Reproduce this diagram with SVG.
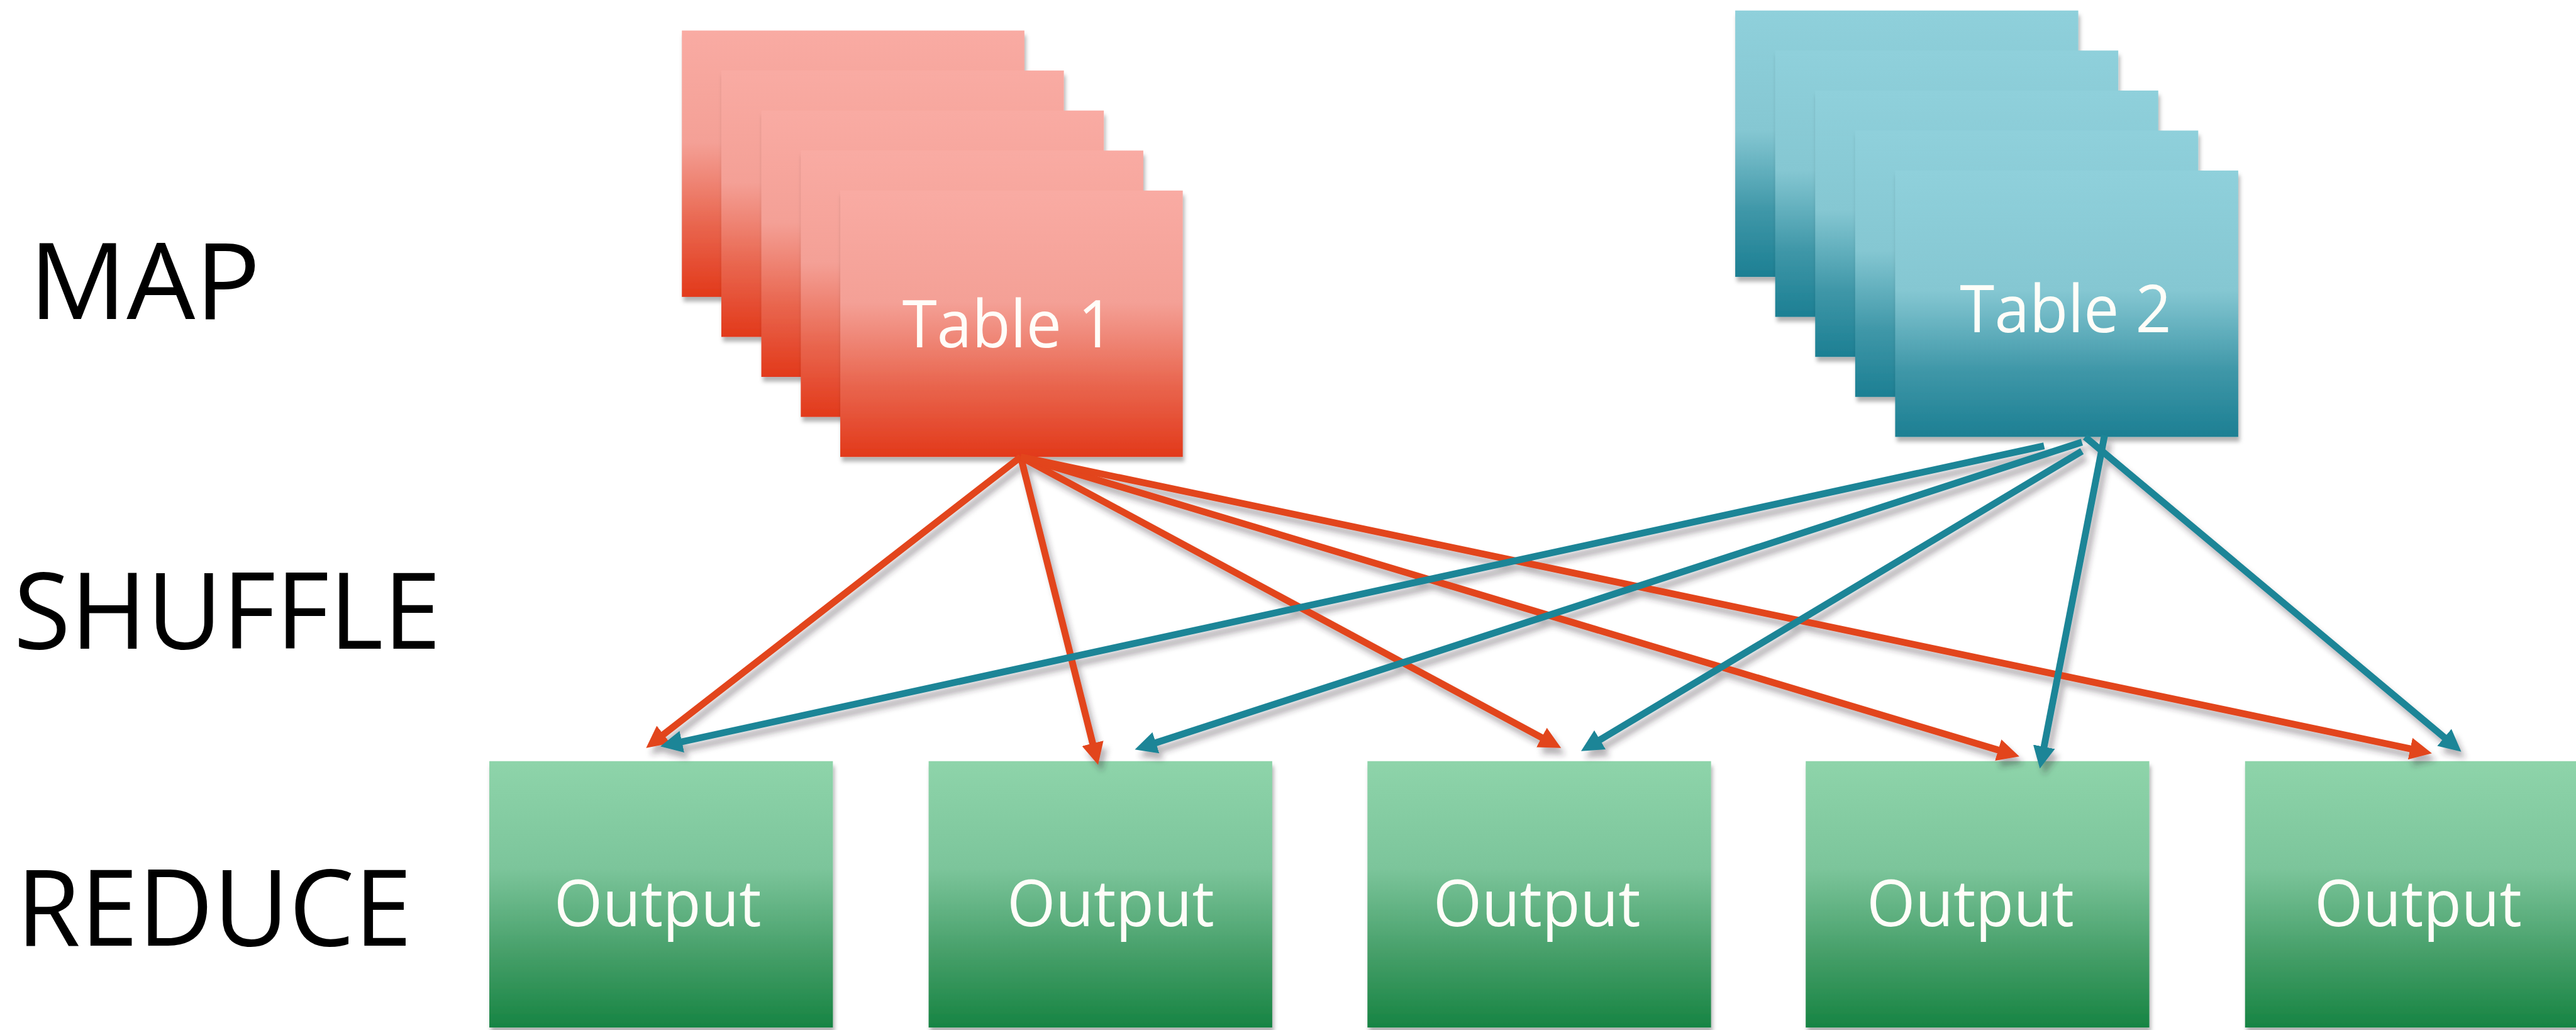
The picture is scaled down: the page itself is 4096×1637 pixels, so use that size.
<svg xmlns="http://www.w3.org/2000/svg" width="4096" height="1637" viewBox="0 0 4096 1637">
  <defs>
    <linearGradient id="gradRed" x1="0" y1="0" x2="0" y2="1">
      <stop offset="0" stop-color="#F9ABA3"/>
      <stop offset="0.42" stop-color="#F4A096"/>
      <stop offset="0.72" stop-color="#E96750"/>
      <stop offset="1" stop-color="#E2391A"/>
    </linearGradient>
    <linearGradient id="gradTeal" x1="0" y1="0" x2="0" y2="1">
      <stop offset="0" stop-color="#8FD0DB"/>
      <stop offset="0.45" stop-color="#85C7D2"/>
      <stop offset="0.75" stop-color="#3F97A8"/>
      <stop offset="1" stop-color="#1C7F93"/>
    </linearGradient>
    <linearGradient id="gradGreen" x1="0" y1="0" x2="0" y2="1">
      <stop offset="0" stop-color="#8ED4AA"/>
      <stop offset="0.4" stop-color="#7CC59B"/>
      <stop offset="0.72" stop-color="#469F69"/>
      <stop offset="1" stop-color="#178443"/>
    </linearGradient>
    <filter id="cardShadow" x="-10%" y="-10%" width="130%" height="130%">
      <feDropShadow dx="3" dy="9" stdDeviation="4" flood-color="#000" flood-opacity="0.3"/>
    </filter>
    <filter id="lineShadow" x="-10%" y="-10%" width="130%" height="130%">
      <feDropShadow dx="8" dy="13" stdDeviation="6" flood-color="#302838" flood-opacity="0.35"/>
    </filter>
    <marker id="headRed" markerUnits="userSpaceOnUse" viewBox="0 -22 44 44" markerWidth="44" markerHeight="44" refX="2" refY="0" orient="auto">
      <path d="M0,-21 L42,0 L0,21 z" fill="#E2441B"/>
    </marker>
    <marker id="headTeal" markerUnits="userSpaceOnUse" viewBox="0 -22 44 44" markerWidth="44" markerHeight="44" refX="2" refY="0" orient="auto">
      <path d="M0,-21 L42,0 L0,21 z" fill="#1E8597"/>
    </marker>
    <style>
      .card-red { fill: url(#gradRed); filter: url(#cardShadow); }
      .card-teal { fill: url(#gradTeal); filter: url(#cardShadow); }
      .out { fill: url(#gradGreen); filter: url(#cardShadow); }
      .lbl { font-family: "Open Sans", "Noto Sans", sans-serif; fill: #FFFDF8; text-anchor: middle; }
      .stage { font-family: "Open Sans", "Noto Sans", sans-serif; font-size: 202px; fill: #000; }
      .red { stroke: #E2441B; stroke-width: 13; fill: none; marker-end: url(#headRed); }
      .teal { stroke: #1E8597; stroke-width: 13; fill: none; marker-end: url(#headTeal); }
    </style>
  </defs>

  <rect width="4096" height="1637" fill="#FFFFFF"/>

  <g transform="scale(0.836601)">
    <!-- stage labels -->
    <g id="stage-labels">
      <text class="stage" x="55" y="606" textLength="440" lengthAdjust="spacingAndGlyphs">MAP</text>
      <text class="stage" x="26" y="1232" textLength="812" lengthAdjust="spacingAndGlyphs">SHUFFLE</text>
      <text class="stage" x="31" y="1797" textLength="752" lengthAdjust="spacingAndGlyphs">REDUCE</text>
    </g>

    <!-- input table 1: stacked splits -->
    <g id="table1">
      <rect class="card-red" x="1296" y="58" width="651" height="506"/>
      <rect class="card-red" x="1371" y="134" width="651" height="506"/>
      <rect class="card-red" x="1447" y="210" width="651" height="506"/>
      <rect class="card-red" x="1522" y="286" width="651" height="506"/>
      <rect class="card-red" x="1597" y="362" width="651" height="506"/>
      <text class="lbl" x="1916" y="660" font-size="125" textLength="402" lengthAdjust="spacingAndGlyphs">Table 1</text>
    </g>

    <!-- input table 2: stacked splits -->
    <g id="table2">
      <rect class="card-teal" x="3298" y="20" width="652" height="506"/>
      <rect class="card-teal" x="3374" y="96" width="652" height="506"/>
      <rect class="card-teal" x="3450" y="172" width="652" height="506"/>
      <rect class="card-teal" x="3526" y="248" width="652" height="506"/>
      <rect class="card-teal" x="3602" y="324" width="652" height="506"/>
      <text class="lbl" x="3926" y="631" font-size="125" textLength="402" lengthAdjust="spacingAndGlyphs">Table 2</text>
    </g>

    <!-- reducer outputs -->
    <g id="output1">
      <rect class="out" x="930" y="1446" width="653" height="506"/>
      <text class="lbl" x="1250" y="1759" font-size="122" textLength="394" lengthAdjust="spacingAndGlyphs">Output</text>
    </g>
    <g id="output2">
      <rect class="out" x="1765" y="1446" width="653" height="506"/>
      <text class="lbl" x="2111" y="1759" font-size="122" textLength="394" lengthAdjust="spacingAndGlyphs">Output</text>
    </g>
    <g id="output3">
      <rect class="out" x="2599" y="1446" width="653" height="506"/>
      <text class="lbl" x="2921" y="1759" font-size="122" textLength="394" lengthAdjust="spacingAndGlyphs">Output</text>
    </g>
    <g id="output4">
      <rect class="out" x="3432" y="1446" width="653" height="506"/>
      <text class="lbl" x="3745" y="1759" font-size="122" textLength="394" lengthAdjust="spacingAndGlyphs">Output</text>
    </g>
    <g id="output5">
      <rect class="out" x="4267" y="1446" width="653" height="506"/>
      <text class="lbl" x="4596" y="1759" font-size="122" textLength="394" lengthAdjust="spacingAndGlyphs">Output</text>
    </g>

    <!-- shuffle connectors: every table feeds every reducer -->
    <g id="connectors" filter="url(#lineShadow)">
      <line class="red" x1="1940" y1="868" x2="1259.6" y2="1396.5"/>
      <line class="red" x1="1940" y1="868" x2="2077.3" y2="1414.2"/>
      <line class="red" x1="1940" y1="868" x2="2931.8" y2="1402.0"/>
      <line class="red" x1="1940" y1="868" x2="3799.7" y2="1425.5"/>
      <line class="red" x1="1940" y1="868" x2="4582.9" y2="1422.8"/>

      <line class="teal" x1="3885" y1="847" x2="1294.1" y2="1409.5"/>
      <line class="teal" x1="3957" y1="840" x2="2195.0" y2="1411.7"/>
      <line class="teal" x1="3957" y1="857" x2="3039.3" y2="1406.5"/>
      <line class="teal" x1="4000" y1="827" x2="3884.6" y2="1420.7"/>
      <line class="teal" x1="3963" y1="830" x2="4647.3" y2="1402.3"/>
    </g>
  </g>
</svg>
